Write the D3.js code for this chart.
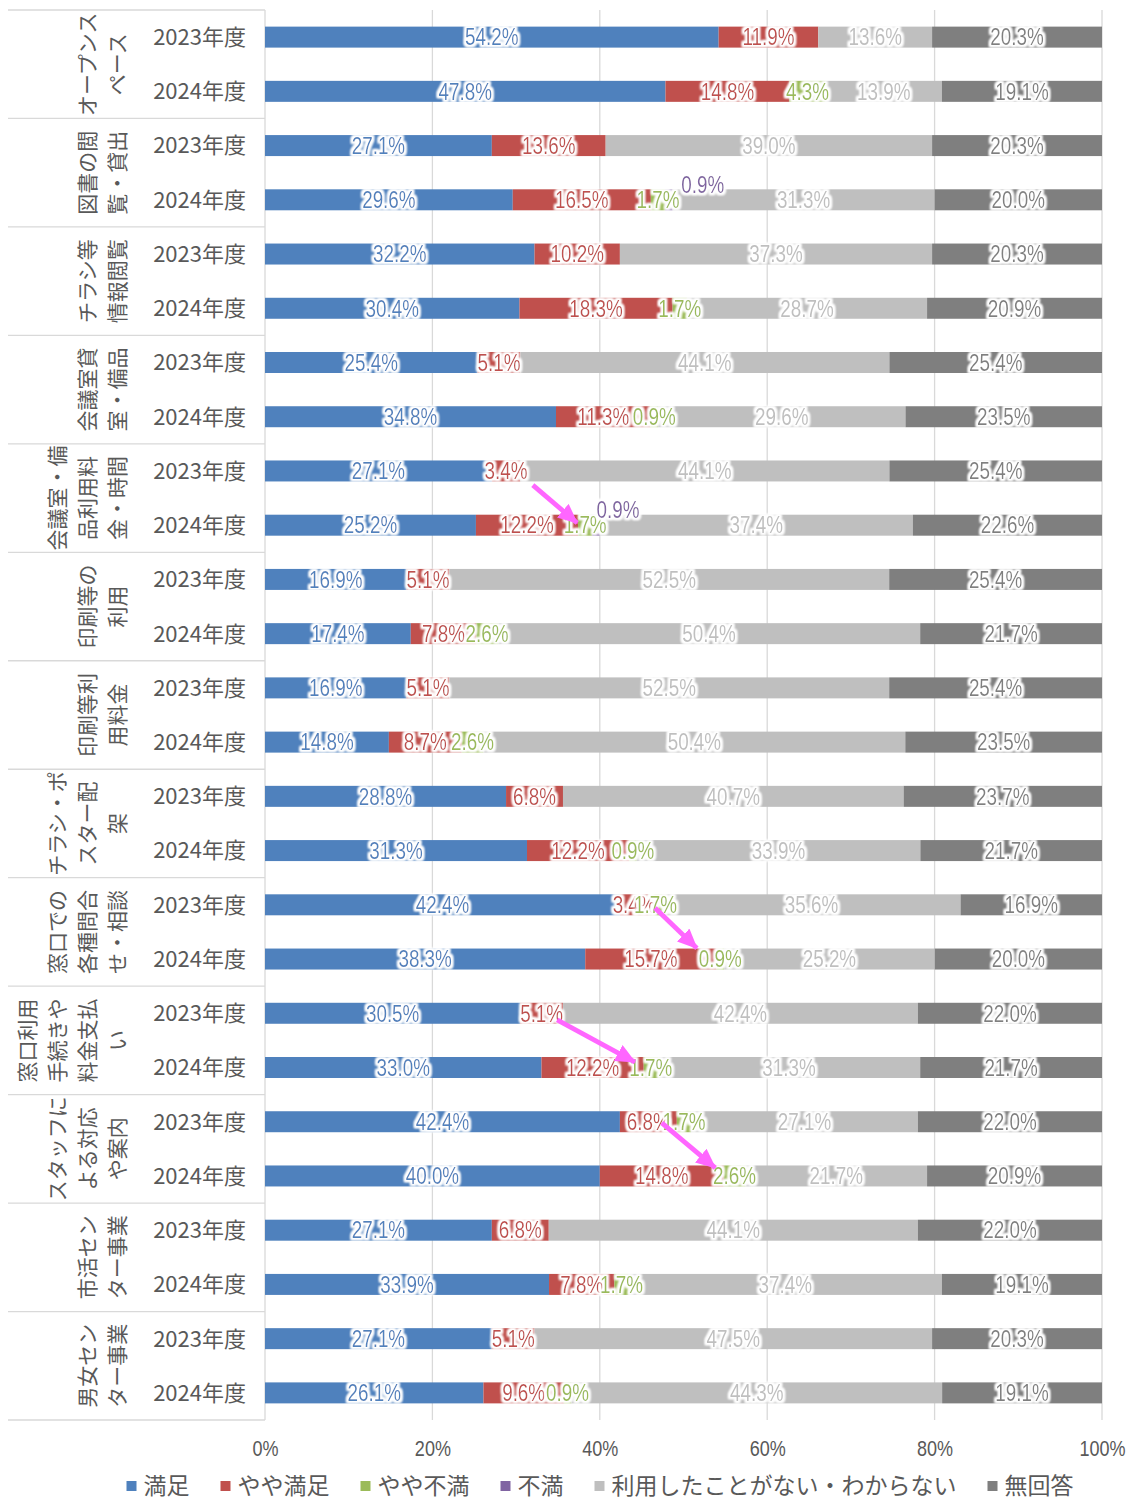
<!DOCTYPE html>
<html><head><meta charset="utf-8">
<script src="https://cdn.jsdelivr.net/npm/d3@7"></script>
<style>
body{margin:0;background:#fff;}
svg{display:block;}
</style></head>
<body>
<svg id="chart" width="1126" height="1499"></svg>
<script>
// ---------------- DATA ----------------
const groups = [
  ["オープンス","ペース"],
  ["図書の閲","覧・貸出"],
  ["チラシ等","情報閲覧"],
  ["会議室貸","室・備品"],
  ["会議室・備","品利用料","金・時間"],
  ["印刷等の","利用"],
  ["印刷等利","用料金"],
  ["チラシ・ポ","スター配","架"],
  ["窓口での","各種問合","せ・相談"],
  ["窓口利用","手続きや","料金支払","い"],
  ["スタッフに","よる対応","や案内"],
  ["市活セン","ター事業"],
  ["男女セン","ター事業"]
];
const years = ["2023年度","2024年度"];
const seriesNames = ["満足","やや満足","やや不満","不満","利用したことがない・わからない","無回答"];
const seriesColors = ["#4f81bd","#c0504d","#9bbb59","#8064a2","#bfbfbf","#7f7f7f"];

const satisfied            = [54.2,47.8,27.1,29.6,32.2,30.4,25.4,34.8,27.1,25.2,16.9,17.4,16.9,14.8,28.8,31.3,42.4,38.3,30.5,33.0,42.4,40.0,27.1,33.9,27.1,26.1];
const somewhatSatisfied    = [11.9,14.8,13.6,16.5,10.2,18.3,5.1,11.3,3.4,12.2,5.1,7.8,5.1,8.7,6.8,12.2,3.4,15.7,5.1,12.2,6.8,14.8,6.8,7.8,5.1,9.6];
const somewhatDissatisfied = [0,4.3,0,1.7,0,1.7,0,0.9,0,1.7,0,2.6,0,2.6,0,0.9,1.7,0.9,0,1.7,1.7,2.6,0,1.7,0,0.9];
const dissatisfied         = [0,0,0,0.9,0,0,0,0,0,0.9,0,0,0,0,0,0,0,0,0,0,0,0,0,0,0,0];
const notUsed              = [13.6,13.9,39.0,31.3,37.3,28.7,44.1,29.6,44.1,37.4,52.5,50.4,52.5,50.4,40.7,33.9,35.6,25.2,42.4,31.3,27.1,21.7,44.1,37.4,47.5,44.3];
const noAnswer             = [20.3,19.1,20.3,20.0,20.3,20.9,25.4,23.5,25.4,22.6,25.4,21.7,25.4,23.5,23.7,21.7,16.9,20.0,22.0,21.7,22.0,20.9,22.0,19.1,20.3,19.1];
const xTicks = [0,0.2,0.4,0.6,0.8,1.0];

// manually moved labels (row index, series index, shift in px)
const labelShifts = [
  {row:3, series:3, dx:34, dy:-15},
  {row:9, series:3, dx:22, dy:-15}
];
// annotation arrows in data coordinates (percent, fractional row index)
const arrows = [
  {x1:32.0, r1:8.26,  x2:37.3, r2:8.96},
  {x1:46.6, r1:16.06, x2:51.6, r2:16.80},
  {x1:34.9, r1:18.12, x2:44.2, r2:18.90},
  {x1:47.4, r1:20.02, x2:53.8, r2:20.85}
];

// ---------------- BUILD ----------------
(function(){
const seriesArrays = [satisfied, somewhatSatisfied, somewhatDissatisfied, dissatisfied, notUsed, noAnswer];
const rows = [];
groups.forEach((g, gi) => years.forEach((yr, yi) => rows.push({id: gi*2+yi, group: gi, year: yr})));
const table = rows.map((r, i) => {
  const o = {id: r.id};
  seriesNames.forEach((s, si) => o[s] = seriesArrays[si][i]);
  return o;
});
const stack = d3.stack().keys(seriesNames).offset(d3.stackOffsetExpand);
const stacked = stack(table);

const svg = d3.select("#chart");
const pL = 265, pR = 1102, pT = 10, pB = 1420;
const x = d3.scaleLinear().domain([0,1]).range([pL,pR]);
const xPct = d3.scaleLinear().domain([0,100]).range([pL,pR]);
const y = d3.scaleBand().domain(rows.map(r => r.id)).range([pT,pB]).paddingInner(0.613).paddingOuter(0.3065);
const step = y.step();
const yRow = d3.scaleLinear().domain([-0.5, rows.length - 0.5]).range([pT, pB]);

const textColor = "#595959";
const gridColor = "#d9d9d9";
const jp = "'Noto Sans CJK JP','Noto Sans',sans-serif";
const narrow = "'Liberation Sans',Arial,sans-serif";
const squeeze = 0.82;

// defs
const defs = svg.append("defs");
const f = defs.append("filter").attr("id","glow").attr("x","-30%").attr("y","-50%").attr("width","160%").attr("height","200%");
f.append("feMorphology").attr("in","SourceAlpha").attr("operator","dilate").attr("radius",1.6).attr("result","d");
f.append("feGaussianBlur").attr("in","d").attr("stdDeviation",1.3).attr("result","b");
f.append("feFlood").attr("flood-color","#ffffff").attr("result","w");
f.append("feComposite").attr("in","w").attr("in2","b").attr("operator","in").attr("result","g");
const fm = f.append("feMerge");
fm.append("feMergeNode").attr("in","g");
fm.append("feMergeNode").attr("in","g");
fm.append("feMergeNode").attr("in","SourceGraphic");

defs.append("marker").attr("id","arrowhead")
  .attr("markerUnits","userSpaceOnUse")
  .attr("viewBox","0 0 20 18").attr("refX",19).attr("refY",9)
  .attr("markerWidth",20).attr("markerHeight",18).attr("orient","auto")
  .append("path").attr("d","M0,0 L20,9 L0,18 Z").attr("fill","#ff66ff");

// gridlines
svg.append("g").selectAll("line").data(xTicks).join("line")
  .attr("x1", d => x(d)).attr("x2", d => x(d))
  .attr("y1", pT).attr("y2", pB)
  .attr("stroke", gridColor).attr("stroke-width", 1.3);

// group separators
svg.append("g").selectAll("line").data(d3.range(groups.length + 1)).join("line")
  .attr("x1", 8).attr("x2", pL)
  .attr("y1", d => pT + d*2*step).attr("y2", d => pT + d*2*step)
  .attr("stroke", gridColor).attr("stroke-width", 1.3);

// bars
const layers = svg.append("g").selectAll("g").data(stacked).join("g")
  .attr("fill", (d, i) => seriesColors[i]);
layers.selectAll("rect").data(d => d.map((v, i) => ({v, i}))).join("rect")
  .attr("x", d => x(d.v[0]))
  .attr("width", d => Math.max(0, x(d.v[1]) - x(d.v[0])))
  .attr("y", d => y(rows[d.i].id))
  .attr("height", y.bandwidth());

// labels
const labelsG = svg.append("g").attr("font-family", narrow).attr("font-size", 23).attr("text-anchor","middle");
stacked.forEach((layer, si) => {
  layer.forEach((v, i) => {
    const val = seriesArrays[si][i];
    if (!val) return;
    const sh = labelShifts.find(s => s.row === i && s.series === si) || {dx:0, dy:0};
    const lx = x((v[0] + v[1]) / 2) + sh.dx;
    const ly = y(rows[i].id) + y.bandwidth()/2 + sh.dy;
    labelsG.append("g").attr("filter", "url(#glow)")
      .append("text")
      .attr("transform", `translate(${lx},${ly}) scale(${squeeze},1)`)
      .attr("dy", "0.36em")
      .attr("fill", seriesColors[si])
      .text(val.toFixed(1) + "%");
  });
});

// arrows
svg.append("g").selectAll("line").data(arrows).join("line")
  .attr("x1", d => xPct(d.x1)).attr("y1", d => yRow(d.r1))
  .attr("x2", d => xPct(d.x2)).attr("y2", d => yRow(d.r2))
  .attr("stroke", "#ff66ff").attr("stroke-width", 4.8)
  .attr("marker-end", "url(#arrowhead)");

// year labels
svg.append("g").selectAll("text").data(rows).join("text")
  .attr("x", 246).attr("y", d => y(d.id) + y.bandwidth()/2)
  .attr("dy", "0.36em").attr("text-anchor","end")
  .attr("font-family", jp).attr("font-size", 22).attr("fill", textColor)
  .text(d => d.year);

// category labels (rotated)
const catG = svg.append("g").attr("font-family", jp).attr("font-size", 21).attr("fill", textColor);
groups.forEach((lines, gi) => {
  const cy = pT + (gi*2 + 1) * step;
  const n = lines.length;
  lines.forEach((ln, li) => {
    const cx = 117 - (n - 1 - li) * 30;
    catG.append("text")
      .attr("transform", `translate(${cx},${cy}) rotate(-90)`)
      .attr("text-anchor","middle").attr("dy","0.36em")
      .text(ln);
  });
});

// x axis
const axis = d3.axisBottom(x).tickValues(xTicks).tickSize(0).tickPadding(20).tickFormat(d3.format(".0%"));
const ax = svg.append("g").attr("transform", `translate(0,${pB})`).call(axis);
ax.select(".domain").remove();
ax.selectAll("text").attr("font-family", narrow).attr("font-size", 22).attr("fill", textColor)
  .attr("transform", `scale(${squeeze},1)`);

// legend
const leg = svg.append("g").attr("font-family", jp).attr("font-size", 23).attr("fill", textColor);
const items = seriesNames.map((s, i) => {
  const g = leg.append("g");
  g.append("rect").attr("width", 10).attr("height", 10).attr("y", -5).attr("fill", seriesColors[i]);
  const t = g.append("text").attr("x", 17).attr("dy","0.34em").text(s);
  return {g, w: 17 + t.node().getComputedTextLength()};
});
const gap = 31;
const total = d3.sum(items, d => d.w) + gap * (items.length - 1);
let cx0 = 600 - total/2;
items.forEach(it => {
  it.g.attr("transform", `translate(${cx0},1486)`);
  cx0 += it.w + gap;
});
})();
</script>
</body></html>
